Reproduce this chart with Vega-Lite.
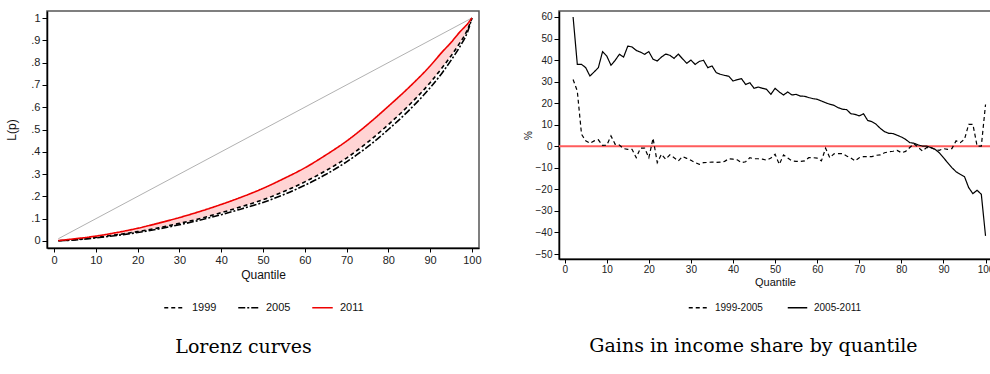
{
  "$schema": "https://vega.github.io/schema/vega-lite/v6.json",
  "background": "white",
  "padding": {"left": 5, "top": 10, "right": 0, "bottom": 0},
  "spacing": 40,
  "resolve": {
    "scale": {"color": "independent", "strokeDash": "independent"},
    "legend": {"color": "independent", "strokeDash": "independent"}
  },
  "config": {
    "view": {"stroke": "#555555", "strokeWidth": 1.5},
    "axis": {
      "labelFont": "Liberation Sans", "labelFontSize": 11, "labelColor": "#222222",
      "titleFont": "Liberation Sans", "titleFontSize": 12, "titleFontWeight": "normal", "titleColor": "#111111",
      "grid": false, "tickColor": "#000000", "domainColor": "#000000", "tickSize": 5,
      "domainWidth": 1.5, "tickWidth": 1, "labelPadding": 2, "labelOverlap": false
    },
    "legend": {
      "labelFont": "Liberation Sans", "labelFontSize": 11, "labelColor": "#111111",
      "layout": {"bottom": {"anchor": "middle"}}
    },
    "title": {"font": "DejaVu Serif", "fontSize": 19, "fontWeight": "normal", "color": "#000000"}
  },
  "datasets": {
    "lorenz": [
      {"q": 1, "1999": 0.001, "2005": 0.001, "2011": 0.002},
      {"q": 5, "1999": 0.006, "2005": 0.005, "2011": 0.010},
      {"q": 10, "1999": 0.016, "2005": 0.014, "2011": 0.022},
      {"q": 15, "1999": 0.028, "2005": 0.025, "2011": 0.038},
      {"q": 20, "1999": 0.042, "2005": 0.038, "2011": 0.057},
      {"q": 25, "1999": 0.059, "2005": 0.054, "2011": 0.080},
      {"q": 30, "1999": 0.079, "2005": 0.073, "2011": 0.105},
      {"q": 35, "1999": 0.101, "2005": 0.094, "2011": 0.133},
      {"q": 40, "1999": 0.127, "2005": 0.118, "2011": 0.164},
      {"q": 45, "1999": 0.155, "2005": 0.145, "2011": 0.198},
      {"q": 50, "1999": 0.185, "2005": 0.173, "2011": 0.236},
      {"q": 55, "1999": 0.222, "2005": 0.208, "2011": 0.280},
      {"q": 60, "1999": 0.265, "2005": 0.250, "2011": 0.328},
      {"q": 65, "1999": 0.315, "2005": 0.298, "2011": 0.385},
      {"q": 70, "1999": 0.372, "2005": 0.355, "2011": 0.448},
      {"q": 75, "1999": 0.442, "2005": 0.422, "2011": 0.522},
      {"q": 80, "1999": 0.522, "2005": 0.500, "2011": 0.604},
      {"q": 85, "1999": 0.610, "2005": 0.587, "2011": 0.690},
      {"q": 90, "1999": 0.710, "2005": 0.687, "2011": 0.785},
      {"q": 93, "1999": 0.780, "2005": 0.757, "2011": 0.850},
      {"q": 95, "1999": 0.830, "2005": 0.810, "2011": 0.890},
      {"q": 97, "1999": 0.885, "2005": 0.868, "2011": 0.935},
      {"q": 99, "1999": 0.950, "2005": 0.940, "2011": 0.975},
      {"q": 100, "1999": 1.0, "2005": 1.0, "2011": 1.0}
    ],
    "diag": [
      {"q": 1, "L": 0.01},
      {"q": 100, "L": 1.0}
    ],
    "zero": [
      {"v": 0}
    ],
    "gains": [
      {"q": 2, "1999-2005": 31, "2005-2011": 60},
      {"q": 3, "1999-2005": 25.6, "2005-2011": 38},
      {"q": 4, "1999-2005": 5.6, "2005-2011": 38},
      {"q": 5, "1999-2005": 2.5, "2005-2011": 36.5},
      {"q": 6, "1999-2005": 1.4, "2005-2011": 32.6},
      {"q": 7, "1999-2005": 2.5, "2005-2011": 34.5},
      {"q": 8, "1999-2005": 3.0, "2005-2011": 36.5},
      {"q": 9, "1999-2005": 0.4, "2005-2011": 43.9},
      {"q": 10, "1999-2005": 0.5, "2005-2011": 41.9},
      {"q": 11, "1999-2005": 4.8, "2005-2011": 37.6},
      {"q": 12, "1999-2005": 0.9, "2005-2011": 39.9},
      {"q": 13, "1999-2005": 0.6, "2005-2011": 42.7},
      {"q": 14, "1999-2005": -1.1, "2005-2011": 41.4},
      {"q": 15, "1999-2005": -1.4, "2005-2011": 46.5},
      {"q": 16, "1999-2005": -1.4, "2005-2011": 46.1},
      {"q": 17, "1999-2005": -5.3, "2005-2011": 44.5},
      {"q": 18, "1999-2005": -0.9, "2005-2011": 43.7},
      {"q": 19, "1999-2005": -0.9, "2005-2011": 42.7},
      {"q": 20, "1999-2005": -5.3, "2005-2011": 43.9},
      {"q": 21, "1999-2005": 3.7, "2005-2011": 40.4},
      {"q": 22, "1999-2005": -7.6, "2005-2011": 39.6},
      {"q": 23, "1999-2005": -3.7, "2005-2011": 41.4},
      {"q": 24, "1999-2005": -6.0, "2005-2011": 42.8},
      {"q": 25, "1999-2005": -4.0, "2005-2011": 42.2},
      {"q": 26, "1999-2005": -5.3, "2005-2011": 40.8},
      {"q": 27, "1999-2005": -6.8, "2005-2011": 42.8},
      {"q": 28, "1999-2005": -4.8, "2005-2011": 40.6},
      {"q": 29, "1999-2005": -5.6, "2005-2011": 38.5},
      {"q": 30, "1999-2005": -6.5, "2005-2011": 40.0},
      {"q": 31, "1999-2005": -7.6, "2005-2011": 38.0},
      {"q": 32, "1999-2005": -8.4, "2005-2011": 39.4},
      {"q": 33, "1999-2005": -7.6, "2005-2011": 39.9},
      {"q": 34, "1999-2005": -7.5, "2005-2011": 36.5},
      {"q": 35, "1999-2005": -7.3, "2005-2011": 37.3},
      {"q": 36, "1999-2005": -7.5, "2005-2011": 34.2},
      {"q": 37, "1999-2005": -7.4, "2005-2011": 33.4},
      {"q": 38, "1999-2005": -7.0, "2005-2011": 32.9},
      {"q": 39, "1999-2005": -5.8, "2005-2011": 32.5},
      {"q": 40, "1999-2005": -6.0, "2005-2011": 30.3},
      {"q": 41, "1999-2005": -6.3, "2005-2011": 30.9},
      {"q": 42, "1999-2005": -7.6, "2005-2011": 31.4},
      {"q": 43, "1999-2005": -7.2, "2005-2011": 28.7},
      {"q": 44, "1999-2005": -5.3, "2005-2011": 29.5},
      {"q": 45, "1999-2005": -5.8, "2005-2011": 26.9},
      {"q": 46, "1999-2005": -5.8, "2005-2011": 27.5},
      {"q": 47, "1999-2005": -6.0, "2005-2011": 26.9},
      {"q": 48, "1999-2005": -6.5, "2005-2011": 26.4},
      {"q": 49, "1999-2005": -5.5, "2005-2011": 24.1},
      {"q": 50, "1999-2005": -3.7, "2005-2011": 26.9},
      {"q": 51, "1999-2005": -8.4, "2005-2011": 25.2},
      {"q": 52, "1999-2005": -4.0, "2005-2011": 23.8},
      {"q": 53, "1999-2005": -5.5, "2005-2011": 25.2},
      {"q": 54, "1999-2005": -6.8, "2005-2011": 23.8},
      {"q": 55, "1999-2005": -7.0, "2005-2011": 24.1},
      {"q": 56, "1999-2005": -7.0, "2005-2011": 23.3},
      {"q": 57, "1999-2005": -6.8, "2005-2011": 23.2},
      {"q": 58, "1999-2005": -5.3, "2005-2011": 22.6},
      {"q": 59, "1999-2005": -5.3, "2005-2011": 22.1},
      {"q": 60, "1999-2005": -5.5, "2005-2011": 21.8},
      {"q": 61, "1999-2005": -6.8, "2005-2011": 21.0},
      {"q": 62, "1999-2005": -0.9, "2005-2011": 20.2},
      {"q": 63, "1999-2005": -5.3, "2005-2011": 19.5},
      {"q": 64, "1999-2005": -3.5, "2005-2011": 19.0},
      {"q": 65, "1999-2005": -3.4, "2005-2011": 17.9},
      {"q": 66, "1999-2005": -3.4, "2005-2011": 17.2},
      {"q": 67, "1999-2005": -4.5, "2005-2011": 17.0},
      {"q": 68, "1999-2005": -5.5, "2005-2011": 15.1},
      {"q": 69, "1999-2005": -6.8, "2005-2011": 14.8},
      {"q": 70, "1999-2005": -5.3, "2005-2011": 14.1},
      {"q": 71, "1999-2005": -4.8, "2005-2011": 15.1},
      {"q": 72, "1999-2005": -4.8, "2005-2011": 12.0},
      {"q": 73, "1999-2005": -4.8, "2005-2011": 11.4},
      {"q": 74, "1999-2005": -4.2, "2005-2011": 10.2},
      {"q": 75, "1999-2005": -4.0, "2005-2011": 8.3},
      {"q": 76, "1999-2005": -3.0, "2005-2011": 6.8},
      {"q": 77, "1999-2005": -2.6, "2005-2011": 6.0},
      {"q": 78, "1999-2005": -2.3, "2005-2011": 5.9},
      {"q": 79, "1999-2005": -1.9, "2005-2011": 5.1},
      {"q": 80, "1999-2005": -3.0, "2005-2011": 4.3},
      {"q": 81, "1999-2005": -2.4, "2005-2011": 3.2},
      {"q": 82, "1999-2005": -0.6, "2005-2011": 1.7},
      {"q": 83, "1999-2005": 1.2, "2005-2011": 1.4},
      {"q": 84, "1999-2005": -0.5, "2005-2011": 0.6},
      {"q": 85, "1999-2005": -2.2, "2005-2011": 0.1},
      {"q": 86, "1999-2005": -0.6, "2005-2011": 0.1},
      {"q": 87, "1999-2005": -0.6, "2005-2011": -0.6},
      {"q": 88, "1999-2005": -1.5, "2005-2011": -1.4},
      {"q": 89, "1999-2005": -1.9, "2005-2011": -3.0},
      {"q": 90, "1999-2005": -1.1, "2005-2011": -5.3},
      {"q": 91, "1999-2005": -1.4, "2005-2011": -7.6},
      {"q": 92, "1999-2005": -1.1, "2005-2011": -9.9},
      {"q": 93, "1999-2005": 2.5, "2005-2011": -11.8},
      {"q": 94, "1999-2005": 1.7, "2005-2011": -13.0},
      {"q": 95, "1999-2005": 3.2, "2005-2011": -14.1},
      {"q": 96, "1999-2005": 10.2, "2005-2011": -19.2},
      {"q": 97, "1999-2005": 10.2, "2005-2011": -22.0},
      {"q": 98, "1999-2005": 0.1, "2005-2011": -20.4},
      {"q": 99, "1999-2005": 0.1, "2005-2011": -22.3},
      {"q": 100, "1999-2005": 19.4, "2005-2011": -41.6}
    ]
  },
  "hconcat": [
    {
      "width": 432,
      "height": 237,
      "title": {"text": "Lorenz curves", "orient": "bottom", "anchor": "middle", "frame": "bounds", "offset": 25},
      "encoding": {
        "x": {
          "field": "q", "type": "quantitative", "title": "Quantile",
          "scale": {"domain": [-1.7, 101.7], "nice": false, "zero": false},
          "axis": {"values": [0, 10, 20, 30, 40, 50, 60, 70, 80, 90, 100], "tickSize": 4, "labelPadding": 2, "titlePadding": 4}
        }
      },
      "layer": [
        {
          "data": {"name": "lorenz"},
          "mark": {"type": "area", "interpolate": "monotone", "color": "#ffd4d4"},
          "encoding": {
            "y": {"field": "2011", "type": "quantitative", "title": "L(p)",
                  "scale": {"domain": [-0.0314, 1.0314], "nice": false, "zero": false},
                  "axis": {"values": [0, 0.1, 0.2, 0.3, 0.4, 0.5, 0.6, 0.7, 0.8, 0.9, 1],
                           "labelExpr": "datum.value == 0 ? '0' : datum.value == 1 ? '1' : replace(format(datum.value, '.1f'), '0.', '.')",
                           "titlePadding": 12}},
            "y2": {"field": "1999"}
          }
        },
        {
          "data": {"name": "diag"},
          "mark": {"type": "line", "color": "#a8a8a8", "strokeWidth": 0.9},
          "encoding": {
            "y": {"field": "L", "type": "quantitative", "title": "L(p)",
                  "scale": {"domain": [-0.0314, 1.0314], "nice": false, "zero": false},
                  "axis": {"values": [0, 0.1, 0.2, 0.3, 0.4, 0.5, 0.6, 0.7, 0.8, 0.9, 1],
                           "labelExpr": "datum.value == 0 ? '0' : datum.value == 1 ? '1' : replace(format(datum.value, '.1f'), '0.', '.')",
                           "titlePadding": 12}}
          }
        },
        {
          "data": {"name": "lorenz"},
          "transform": [{"fold": ["1999", "2005", "2011"], "as": ["series", "L"]}],
          "mark": {"type": "line", "interpolate": "monotone", "strokeWidth": 1.6},
          "encoding": {
            "y": {"field": "L", "type": "quantitative", "title": "L(p)",
                  "scale": {"domain": [-0.0314, 1.0314], "nice": false, "zero": false},
                  "axis": {"values": [0, 0.1, 0.2, 0.3, 0.4, 0.5, 0.6, 0.7, 0.8, 0.9, 1],
                           "labelExpr": "datum.value == 0 ? '0' : datum.value == 1 ? '1' : replace(format(datum.value, '.1f'), '0.', '.')",
                           "titlePadding": 12}},
            "color": {"field": "series", "type": "nominal",
                      "scale": {"domain": ["1999", "2005", "2011"], "range": ["#000000", "#000000", "#ee0000"]},
                      "legend": {"orient": "bottom", "direction": "horizontal", "title": null, "symbolType": "stroke",
                                 "symbolSize": 420, "symbolStrokeWidth": 1.6, "columnPadding": 18, "labelOffset": 6, "offset": 16}},
            "strokeDash": {"field": "series", "type": "nominal",
                           "scale": {"domain": ["1999", "2005", "2011"], "range": [[4, 3], [7, 2, 2, 2], [1, 0]]},
                           "legend": {"orient": "bottom", "direction": "horizontal", "title": null, "symbolType": "stroke",
                                      "symbolSize": 420, "symbolStrokeWidth": 1.6, "columnPadding": 18, "labelOffset": 6, "offset": 16}}
          }
        }
      ]
    },
    {
      "width": 432,
      "height": 248,
      "title": {"text": "Gains in income share by quantile", "orient": "bottom", "anchor": "middle", "frame": "bounds", "offset": 24, "dx": -5},
      "layer": [
        {
          "data": {"name": "zero"},
          "mark": {"type": "rule", "color": "#ff5c5c", "strokeWidth": 1.8},
          "encoding": {
            "y": {"field": "v", "type": "quantitative", "title": "%",
                  "scale": {"domain": [-52.32, 62.78], "nice": false, "zero": false},
                  "axis": {"values": [-50, -40, -30, -20, -10, 0, 10, 20, 30, 40, 50, 60], "labelFontSize": 10, "titleFontSize": 10, "titlePadding": 2}}
          }
        },
        {
          "data": {"name": "gains"},
          "transform": [{"fold": ["1999-2005", "2005-2011"], "as": ["series", "v"]}],
          "mark": {"type": "line", "strokeWidth": 1.2, "color": "#000000"},
          "encoding": {
            "x": {
              "field": "q", "type": "quantitative", "title": "Quantile",
              "scale": {"domain": [-1.35, 101.3], "nice": false, "zero": false},
              "axis": {"values": [0, 10, 20, 30, 40, 50, 60, 70, 80, 90, 100], "labelFontSize": 10, "titleFontSize": 11, "tickSize": 4, "labelPadding": 1, "titlePadding": 2}
            },
            "y": {"field": "v", "type": "quantitative", "title": "%",
                  "scale": {"domain": [-52.32, 62.78], "nice": false, "zero": false},
                  "axis": {"values": [-50, -40, -30, -20, -10, 0, 10, 20, 30, 40, 50, 60], "labelFontSize": 10, "titleFontSize": 10, "titlePadding": 2}},
            "strokeDash": {"field": "series", "type": "nominal",
                           "scale": {"domain": ["1999-2005", "2005-2011"], "range": [[4, 3], [1, 0]]},
                           "legend": {"orient": "bottom", "direction": "horizontal", "title": null, "symbolType": "stroke",
                                      "symbolSize": 380, "symbolStrokeWidth": 1.3, "symbolStrokeColor": "#000000", "columnPadding": 22, "labelOffset": 6, "labelFontSize": 10, "offset": 10}}
          }
        }
      ]
    }
  ]
}
